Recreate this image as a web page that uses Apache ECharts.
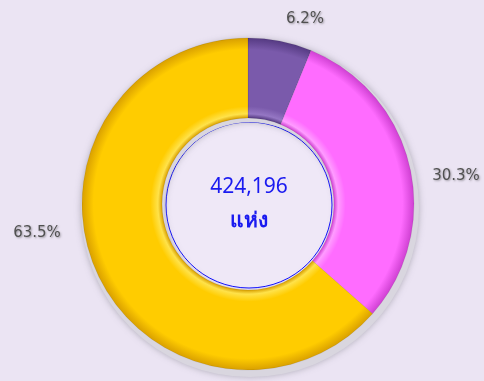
<!DOCTYPE html>
<html>
<head>
<meta charset="utf-8">
<script src="https://cdn.jsdelivr.net/npm/echarts@6/dist/echarts.min.js"></script>
<style>
html,body{margin:0;padding:0;background:#ebe4f3;}
#chart{width:484px;height:381px;}
</style>
</head>
<body>
<div id="chart"></div>
<script>
// Share of establishments by group
const categories = ['กลุ่ม 1', 'กลุ่ม 2', 'กลุ่ม 3'];
const shares = [6.2, 30.3, 63.5];
const sliceColors = ['#7a5aab', '#ff6cff', '#ffcc00'];
const sliceEdges = ['#553a82', '#cf40d2', '#d9a000'];
const sliceLights = ['#9577c4', '#ff9cff', '#ffe24a'];
const totalText = '424,196';
const unitText = 'แห่ง';

// label anchor points around the ring
const labelSpots = [[305, 19], [456, 176], [37, 233]];

const chart = echarts.init(document.getElementById('chart'));
const cx = 248, cy = 204;
const rIn = 86, rOut = 166;

// bevelled ring shading, from the inner edge out to the rim
function ringFill(i) {
  const a = rIn / rOut;
  return {
    type: 'radial', x: cx, y: cy, r: rOut, global: true,
    colorStops: [
      { offset: 0, color: sliceEdges[i] },
      { offset: a, color: sliceEdges[i] },
      { offset: a + 0.025, color: sliceLights[i] },
      { offset: a + 0.07, color: sliceColors[i] },
      { offset: 0.93, color: sliceColors[i] },
      { offset: 1, color: sliceEdges[i] }
    ]
  };
}

chart.setOption({
  backgroundColor: '#ebe4f3',
  animation: false,
  graphic: [
    {
      type: 'circle',
      shape: { cx: cx + 1, cy: cy + 1, r: 83 },
      style: { fill: '#efe8f7', stroke: '#1010ff', lineWidth: 1 },
      z: 1
    },
    {
      type: 'text',
      x: cx + 1, y: cy - 17,
      style: { text: totalText, fill: '#1a1af0', font: '21px "Noto Sans", sans-serif', textAlign: 'center', textVerticalAlign: 'middle' },
      z: 5
    },
    {
      type: 'text',
      x: cx + 1, y: cy + 17,
      style: { text: unitText, fill: '#1a1af0', font: 'bold 21px sans-serif', textAlign: 'center', textVerticalAlign: 'middle' },
      z: 5
    }
  ],
  series: [
    {
      // soft rim under the ring
      type: 'pie',
      silent: true,
      center: [cx + 2, cy + 4],
      radius: [rIn, rOut + 3],
      startAngle: 90,
      label: { show: false },
      itemStyle: { color: '#d9d6df', shadowBlur: 6, shadowColor: 'rgba(120,120,130,0.5)' },
      data: [{ value: 1 }],
      z: 1
    },
    {
      type: 'pie',
      center: [cx, cy],
      radius: [rIn, rOut],
      startAngle: 90,
      clockwise: true,
      data: categories.map((c, i) => ({
        name: c,
        value: shares[i],
        itemStyle: { color: ringFill(i) }
      })),
      itemStyle: { borderColor: 'rgba(0,0,0,0.08)', borderWidth: 1 },
      label: {
        show: true,
        position: 'outside',
        overflow: 'none',
        formatter: p => p.value.toFixed(1) + '%',
        color: '#505050',
        fontFamily: '"DejaVu Sans", sans-serif',
        fontSize: 15,
        textShadowColor: 'rgba(0,0,0,0.35)',
        textShadowBlur: 2,
        textShadowOffsetX: 1,
        textShadowOffsetY: 1
      },
      labelLine: { show: false },
      labelLayout: p => ({
        x: labelSpots[p.dataIndex][0],
        y: labelSpots[p.dataIndex][1],
        align: 'center',
        verticalAlign: 'middle'
      }),
      z: 2
    }
  ]
});
</script>
</body>
</html>
